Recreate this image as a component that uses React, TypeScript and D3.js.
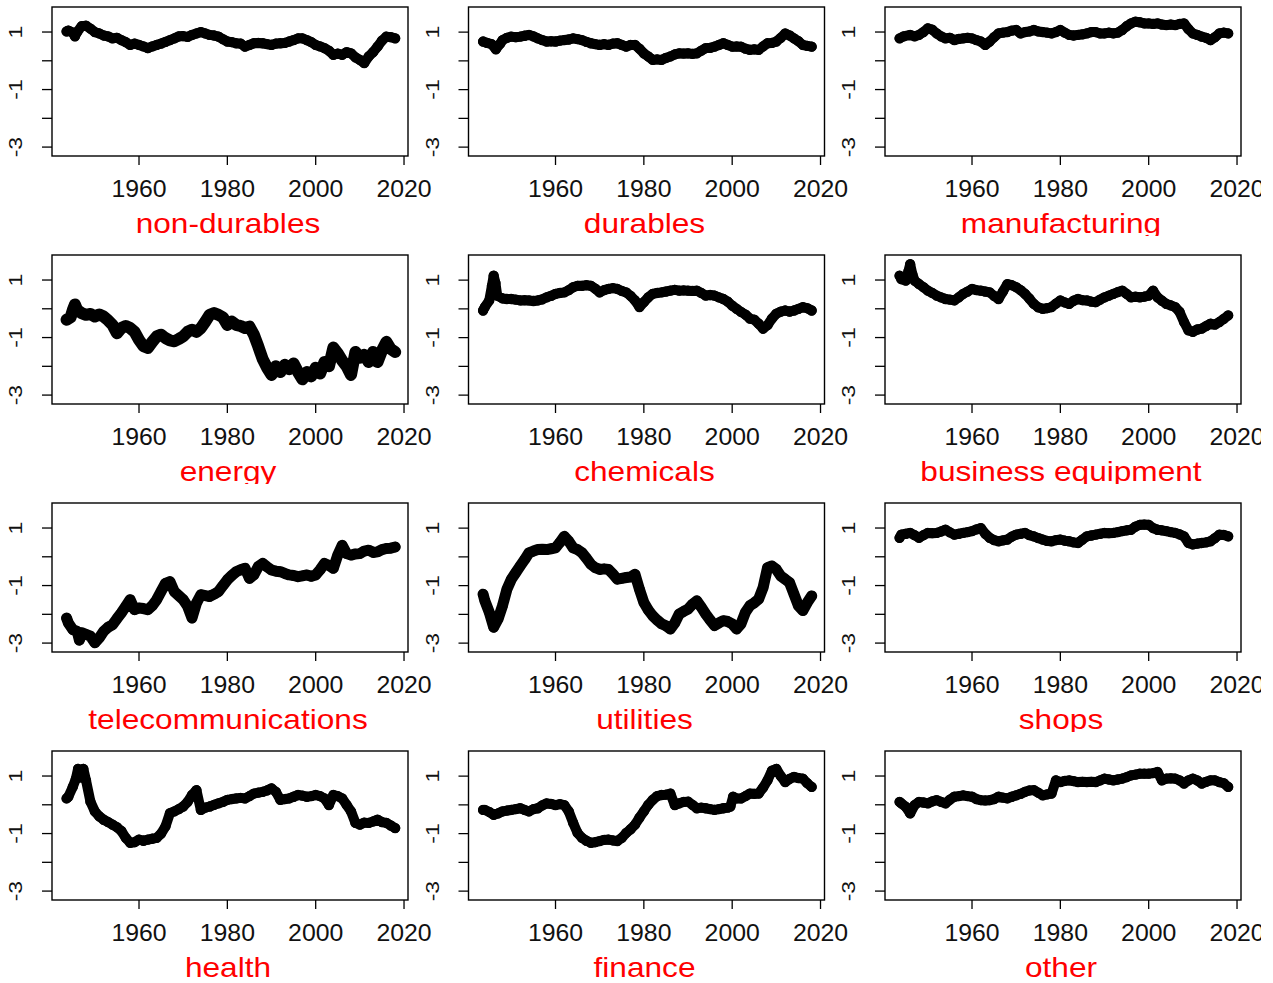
import React from 'react'
import * as d3 from 'd3'

// values, [year, value]
const nonDurables = [[1943.6,1.02],[1944,1.05],[1945,0.98],[1945.5,0.85],[1946,1.0],[1947,1.2],[1948,1.22],[1949,1.12],[1950,1.0],[1951,0.95],[1952,0.88],[1953,0.85],[1954,0.78],[1955,0.8],[1956,0.72],[1957,0.65],[1958,0.55],[1959,0.6],[1960,0.55],[1961,0.5],[1962,0.44],[1963,0.5],[1964,0.55],[1965,0.6],[1966,0.66],[1967,0.72],[1968,0.78],[1969,0.85],[1970,0.86],[1971,0.83],[1972,0.9],[1973,0.95],[1974,1.0],[1975,0.95],[1976,0.9],[1977,0.88],[1978,0.84],[1979,0.75],[1980,0.67],[1981,0.65],[1982,0.61],[1983,0.6],[1984,0.49],[1985,0.55],[1986,0.61],[1987,0.62],[1988,0.61],[1989,0.58],[1990,0.55],[1991,0.6],[1992,0.61],[1993,0.62],[1994,0.67],[1995,0.72],[1996,0.78],[1997,0.78],[1998,0.72],[1999,0.65],[2000,0.55],[2001,0.5],[2002,0.44],[2003,0.35],[2004,0.21],[2005,0.25],[2006,0.21],[2007,0.3],[2008,0.26],[2009,0.12],[2010,0.03],[2011,-0.08],[2012,0.15],[2013,0.3],[2014,0.49],[2015,0.7],[2016,0.84],[2017,0.82],[2018,0.78]]
const durables = [[1943.6,0.67],[1944.5,0.62],[1945.5,0.58],[1946.5,0.4],[1947.5,0.6],[1948,0.72],[1949,0.8],[1950,0.84],[1951,0.82],[1952,0.84],[1953,0.87],[1954,0.9],[1955,0.85],[1956,0.78],[1957,0.72],[1958,0.67],[1959,0.68],[1960,0.67],[1961,0.7],[1962,0.72],[1963,0.74],[1964,0.78],[1965,0.75],[1966,0.72],[1967,0.66],[1968,0.61],[1969,0.58],[1970,0.55],[1971,0.58],[1972,0.55],[1973,0.6],[1974,0.61],[1975,0.55],[1976,0.49],[1977,0.55],[1978,0.55],[1979,0.42],[1980,0.26],[1981,0.15],[1982,0.03],[1983,0.05],[1984,0.03],[1985,0.1],[1986,0.15],[1987,0.22],[1988,0.26],[1989,0.25],[1990,0.26],[1991,0.24],[1992,0.26],[1993,0.35],[1994,0.44],[1995,0.45],[1996,0.49],[1997,0.55],[1998,0.61],[1999,0.55],[2000,0.49],[2001,0.5],[2002,0.49],[2003,0.42],[2004,0.38],[2005,0.4],[2006,0.38],[2007,0.5],[2008,0.61],[2009,0.62],[2010,0.67],[2011,0.8],[2012,0.95],[2013,0.88],[2014,0.78],[2015,0.68],[2016,0.55],[2017,0.52],[2018,0.49]]
const manufacturing = [[1943.6,0.78],[1944.5,0.85],[1946,0.9],[1947,0.85],[1948,0.9],[1949,1.0],[1950,1.13],[1951,1.08],[1952,0.95],[1953,0.85],[1954,0.78],[1955,0.8],[1956,0.72],[1957,0.76],[1958,0.78],[1959,0.8],[1960,0.78],[1961,0.72],[1962,0.67],[1963,0.55],[1964,0.67],[1965,0.82],[1966,0.95],[1967,0.98],[1968,1.0],[1969,1.05],[1970,1.07],[1971,0.95],[1972,1.0],[1973,1.02],[1974,1.07],[1975,1.02],[1976,1.0],[1977,0.98],[1978,0.95],[1979,1.0],[1980,1.07],[1981,0.98],[1982,0.9],[1983,0.88],[1984,0.9],[1985,0.92],[1986,0.95],[1987,1.0],[1988,1.0],[1989,0.95],[1990,0.95],[1991,0.98],[1992,0.95],[1993,0.98],[1994,1.07],[1995,1.2],[1996,1.3],[1997,1.36],[1998,1.34],[1999,1.3],[2000,1.3],[2001,1.28],[2002,1.3],[2003,1.26],[2004,1.24],[2005,1.26],[2006,1.24],[2007,1.28],[2008,1.3],[2009,1.1],[2010,0.95],[2011,0.9],[2012,0.84],[2013,0.8],[2014,0.72],[2015,0.82],[2016,0.95],[2017,0.98],[2018,0.95]]
const energy = [[1943.6,-0.38],[1944.5,-0.3],[1945,-0.05],[1945.5,0.15],[1946,-0.04],[1947,-0.15],[1948,-0.21],[1949,-0.18],[1950,-0.27],[1951,-0.2],[1952,-0.27],[1953,-0.4],[1954,-0.56],[1955,-0.85],[1956,-0.67],[1957,-0.6],[1958,-0.67],[1959,-0.8],[1960,-1.08],[1961,-1.3],[1962,-1.36],[1963,-1.15],[1964,-0.96],[1965,-0.9],[1966,-1.02],[1967,-1.1],[1968,-1.13],[1969,-1.05],[1970,-0.96],[1971,-0.8],[1972,-0.73],[1973,-0.8],[1974,-0.67],[1975,-0.45],[1976,-0.21],[1977,-0.15],[1978,-0.21],[1979,-0.3],[1980,-0.56],[1981,-0.45],[1982,-0.56],[1983,-0.6],[1984,-0.67],[1985,-0.62],[1986,-0.9],[1987,-1.31],[1988,-1.75],[1989,-2.05],[1990,-2.3],[1991,-2.0],[1992,-2.2],[1993,-1.95],[1994,-2.1],[1995,-1.9],[1996,-2.2],[1997,-2.45],[1998,-2.2],[1999,-2.35],[2000,-2.05],[2001,-2.25],[2002,-1.85],[2003,-2.0],[2004,-1.35],[2005,-1.55],[2006,-1.8],[2007,-2.0],[2008,-2.3],[2009,-1.5],[2010,-1.7],[2011,-1.6],[2012,-1.85],[2013,-1.5],[2014,-1.85],[2015,-1.45],[2016,-1.15],[2017,-1.4],[2018,-1.5]]
const chemicals = [[1943.6,-0.06],[1944,0.06],[1945,0.29],[1945.6,0.8],[1946,1.15],[1946.4,0.9],[1946.8,0.46],[1948,0.36],[1949,0.34],[1950,0.34],[1951,0.32],[1952,0.29],[1953,0.3],[1954,0.29],[1955,0.27],[1956,0.29],[1957,0.33],[1958,0.4],[1959,0.45],[1960,0.52],[1961,0.55],[1962,0.57],[1963,0.65],[1964,0.75],[1965,0.8],[1966,0.8],[1967,0.82],[1968,0.8],[1969,0.7],[1970,0.57],[1971,0.65],[1972,0.69],[1973,0.72],[1974,0.69],[1975,0.62],[1976,0.57],[1977,0.45],[1978,0.29],[1979,0.06],[1980,0.23],[1981,0.4],[1982,0.52],[1983,0.55],[1984,0.57],[1985,0.6],[1986,0.63],[1987,0.66],[1988,0.63],[1989,0.64],[1990,0.63],[1991,0.62],[1992,0.63],[1993,0.55],[1994,0.46],[1995,0.48],[1996,0.46],[1997,0.4],[1998,0.34],[1999,0.25],[2000,0.11],[2001,0.0],[2002,-0.11],[2003,-0.2],[2004,-0.34],[2005,-0.38],[2006,-0.52],[2007,-0.69],[2008,-0.57],[2009,-0.34],[2010,-0.17],[2011,-0.1],[2012,-0.06],[2013,-0.1],[2014,-0.06],[2015,0.0],[2016,0.06],[2017,0.02],[2018,-0.06]]
const businessEquipment = [[1943.6,1.15],[1944,1.03],[1945,0.98],[1945.6,1.3],[1946,1.55],[1946.5,1.2],[1947,0.98],[1948,0.86],[1949,0.75],[1950,0.63],[1951,0.55],[1952,0.46],[1953,0.4],[1954,0.34],[1955,0.32],[1956,0.29],[1957,0.4],[1958,0.52],[1959,0.6],[1960,0.69],[1961,0.65],[1962,0.63],[1963,0.6],[1964,0.57],[1965,0.45],[1966,0.34],[1967,0.6],[1968,0.86],[1969,0.82],[1970,0.75],[1971,0.65],[1972,0.52],[1973,0.35],[1974,0.17],[1975,0.05],[1976,0.0],[1977,0.02],[1978,0.06],[1979,0.18],[1980,0.29],[1981,0.22],[1982,0.17],[1983,0.28],[1984,0.34],[1985,0.3],[1986,0.29],[1987,0.25],[1988,0.23],[1989,0.32],[1990,0.4],[1991,0.46],[1992,0.52],[1993,0.58],[1994,0.63],[1995,0.52],[1996,0.4],[1997,0.42],[1998,0.4],[1999,0.42],[2000,0.46],[2001,0.63],[2002,0.4],[2003,0.28],[2004,0.17],[2005,0.12],[2006,0.06],[2007,-0.11],[2008,-0.46],[2009,-0.75],[2010,-0.8],[2011,-0.72],[2012,-0.69],[2013,-0.6],[2014,-0.52],[2015,-0.55],[2016,-0.46],[2017,-0.35],[2018,-0.23]]
const telecommunications = [[1943.6,-2.13],[1944,-2.3],[1945,-2.53],[1946,-2.59],[1946.5,-2.9],[1947,-2.64],[1948,-2.7],[1949,-2.76],[1950,-2.99],[1951,-2.82],[1952,-2.59],[1953,-2.45],[1954,-2.36],[1955,-2.15],[1956,-1.95],[1957,-1.72],[1958,-1.49],[1959,-1.84],[1960,-1.78],[1961,-1.8],[1962,-1.84],[1963,-1.7],[1964,-1.49],[1965,-1.2],[1966,-0.92],[1967,-0.86],[1968,-1.21],[1969,-1.35],[1970,-1.49],[1971,-1.72],[1972,-2.13],[1973,-1.61],[1974,-1.32],[1975,-1.35],[1976,-1.38],[1977,-1.3],[1978,-1.21],[1979,-1.0],[1980,-0.8],[1981,-0.65],[1982,-0.52],[1983,-0.45],[1984,-0.4],[1985,-0.75],[1986,-0.63],[1987,-0.34],[1988,-0.23],[1989,-0.35],[1990,-0.46],[1991,-0.5],[1992,-0.52],[1993,-0.58],[1994,-0.63],[1995,-0.65],[1996,-0.69],[1997,-0.66],[1998,-0.63],[1999,-0.68],[2000,-0.63],[2001,-0.45],[2002,-0.23],[2003,-0.3],[2004,-0.4],[2005,0.06],[2006,0.4],[2007,0.11],[2008,0.06],[2009,0.1],[2010,0.11],[2011,0.2],[2012,0.23],[2013,0.15],[2014,0.17],[2015,0.25],[2016,0.29],[2017,0.3],[2018,0.34]]
const utilities = [[1943.6,-1.3],[1944,-1.53],[1945,-1.93],[1946,-2.45],[1947,-2.16],[1948,-1.7],[1949,-1.13],[1950,-0.78],[1951,-0.55],[1952,-0.32],[1953,-0.1],[1954,0.14],[1955,0.2],[1956,0.25],[1957,0.26],[1958,0.25],[1959,0.28],[1960,0.31],[1961,0.5],[1962,0.71],[1963,0.54],[1964,0.31],[1965,0.25],[1966,0.14],[1967,-0.05],[1968,-0.26],[1969,-0.38],[1970,-0.44],[1971,-0.42],[1972,-0.44],[1973,-0.6],[1974,-0.78],[1975,-0.75],[1976,-0.72],[1977,-0.7],[1978,-0.61],[1979,-1.13],[1980,-1.59],[1981,-1.85],[1982,-2.05],[1983,-2.2],[1984,-2.33],[1985,-2.4],[1986,-2.51],[1987,-2.3],[1988,-1.99],[1989,-1.9],[1990,-1.82],[1991,-1.65],[1992,-1.53],[1993,-1.75],[1994,-1.99],[1995,-2.2],[1996,-2.39],[1997,-2.3],[1998,-2.22],[1999,-2.25],[2000,-2.33],[2001,-2.51],[2002,-2.33],[2003,-1.93],[2004,-1.7],[2005,-1.6],[2006,-1.47],[2007,-1.07],[2008,-0.38],[2009,-0.32],[2010,-0.44],[2011,-0.67],[2012,-0.78],[2013,-0.9],[2014,-1.3],[2015,-1.7],[2016,-1.87],[2017,-1.59],[2018,-1.36]]
const shops = [[1943.6,0.66],[1944,0.77],[1945,0.8],[1946,0.83],[1947,0.75],[1948,0.66],[1949,0.75],[1950,0.83],[1951,0.82],[1952,0.83],[1953,0.88],[1954,0.94],[1955,0.85],[1956,0.77],[1957,0.8],[1958,0.83],[1959,0.86],[1960,0.89],[1961,0.95],[1962,1.0],[1963,0.8],[1964,0.66],[1965,0.58],[1966,0.54],[1967,0.57],[1968,0.6],[1969,0.7],[1970,0.77],[1971,0.8],[1972,0.83],[1973,0.75],[1974,0.71],[1975,0.65],[1976,0.6],[1977,0.55],[1978,0.54],[1979,0.58],[1980,0.6],[1981,0.56],[1982,0.54],[1983,0.5],[1984,0.48],[1985,0.6],[1986,0.71],[1987,0.74],[1988,0.77],[1989,0.8],[1990,0.83],[1991,0.82],[1992,0.83],[1993,0.86],[1994,0.89],[1995,0.92],[1996,0.94],[1997,1.05],[1998,1.11],[1999,1.12],[2000,1.11],[2001,1.0],[2002,0.94],[2003,0.92],[2004,0.89],[2005,0.86],[2006,0.83],[2007,0.78],[2008,0.71],[2009,0.48],[2010,0.43],[2011,0.46],[2012,0.48],[2013,0.5],[2014,0.54],[2015,0.65],[2016,0.77],[2017,0.76],[2018,0.71]]
const health = [[1943.6,0.22],[1944,0.28],[1945,0.62],[1945.7,0.9],[1946.2,1.25],[1946.7,0.95],[1947.4,1.25],[1948,0.85],[1949,0.11],[1950,-0.23],[1951,-0.4],[1952,-0.52],[1953,-0.6],[1954,-0.69],[1955,-0.78],[1956,-0.91],[1957,-1.15],[1958,-1.32],[1959,-1.3],[1960,-1.21],[1961,-1.25],[1962,-1.21],[1963,-1.18],[1964,-1.15],[1965,-1.0],[1966,-0.75],[1967,-0.29],[1968,-0.23],[1969,-0.15],[1970,-0.06],[1971,0.1],[1972,0.34],[1973,0.51],[1974,-0.18],[1975,-0.1],[1976,-0.06],[1977,0.0],[1978,0.05],[1979,0.1],[1980,0.17],[1981,0.2],[1982,0.22],[1983,0.24],[1984,0.22],[1985,0.3],[1986,0.39],[1987,0.42],[1988,0.45],[1989,0.5],[1990,0.57],[1991,0.45],[1992,0.17],[1993,0.2],[1994,0.22],[1995,0.28],[1996,0.34],[1997,0.32],[1998,0.28],[1999,0.3],[2000,0.34],[2001,0.3],[2002,0.22],[2003,-0.01],[2004,0.34],[2005,0.3],[2006,0.22],[2007,0.0],[2008,-0.23],[2009,-0.63],[2010,-0.69],[2011,-0.62],[2012,-0.63],[2013,-0.58],[2014,-0.52],[2015,-0.6],[2016,-0.63],[2017,-0.72],[2018,-0.81]]
const finance = [[1943.6,-0.18],[1944,-0.18],[1945,-0.25],[1946,-0.35],[1947,-0.3],[1948,-0.23],[1949,-0.2],[1950,-0.18],[1951,-0.15],[1952,-0.12],[1953,-0.18],[1954,-0.23],[1955,-0.15],[1956,-0.12],[1957,-0.02],[1958,0.05],[1959,0.03],[1960,-0.01],[1961,0.02],[1962,-0.01],[1963,-0.23],[1964,-0.63],[1965,-0.98],[1966,-1.15],[1967,-1.25],[1968,-1.32],[1969,-1.3],[1970,-1.26],[1971,-1.22],[1972,-1.21],[1973,-1.24],[1974,-1.26],[1975,-1.15],[1976,-0.98],[1977,-0.85],[1978,-0.69],[1979,-0.45],[1980,-0.23],[1981,0.0],[1982,0.17],[1983,0.3],[1984,0.34],[1985,0.35],[1986,0.39],[1987,-0.01],[1988,0.05],[1989,0.1],[1990,0.11],[1991,0.0],[1992,-0.12],[1993,-0.1],[1994,-0.12],[1995,-0.15],[1996,-0.18],[1997,-0.15],[1998,-0.12],[1999,-0.1],[1999.6,-0.06],[2000.2,0.28],[2001,0.22],[2002,0.22],[2003,0.3],[2004,0.39],[2005,0.38],[2006,0.39],[2007,0.6],[2008,0.85],[2009,1.19],[2010,1.25],[2011,1.0],[2012,0.79],[2013,0.9],[2014,0.97],[2015,0.93],[2016,0.91],[2017,0.75],[2018,0.62]]
const other = [[1943.6,0.1],[1944,0.05],[1945,-0.07],[1946,-0.3],[1947,-0.01],[1948,0.1],[1949,0.08],[1950,0.05],[1951,0.12],[1952,0.16],[1953,0.1],[1954,0.05],[1955,0.18],[1956,0.28],[1957,0.3],[1958,0.33],[1959,0.3],[1960,0.28],[1961,0.2],[1962,0.16],[1963,0.15],[1964,0.16],[1965,0.2],[1966,0.28],[1967,0.25],[1968,0.22],[1969,0.28],[1970,0.33],[1971,0.38],[1972,0.45],[1973,0.5],[1974,0.51],[1975,0.42],[1976,0.33],[1977,0.36],[1978,0.39],[1979,0.85],[1980,0.79],[1981,0.83],[1982,0.85],[1983,0.82],[1984,0.79],[1985,0.8],[1986,0.79],[1987,0.8],[1988,0.79],[1989,0.85],[1990,0.91],[1991,0.88],[1992,0.85],[1993,0.88],[1994,0.91],[1995,0.96],[1996,1.02],[1997,1.05],[1998,1.08],[1999,1.08],[2000,1.08],[2001,1.1],[2002,1.14],[2003,0.85],[2004,0.91],[2005,0.92],[2006,0.91],[2007,0.85],[2008,0.74],[2009,0.85],[2010,0.91],[2011,0.85],[2012,0.74],[2013,0.8],[2014,0.85],[2015,0.85],[2016,0.79],[2017,0.75],[2018,0.62]]

const sectorNames = [
  'non-durables', 'durables', 'manufacturing',
  'energy', 'chemicals', 'business equipment',
  'telecommunications', 'utilities', 'shops',
  'health', 'finance', 'other',
]
const sectorSeries = [
  nonDurables, durables, manufacturing,
  energy, chemicals, businessEquipment,
  telecommunications, utilities, shops,
  health, finance, other,
]
const yTicks = [1, 0, -1, -2, -3]
const yTickLabels = ['1', '', '-1', '', '-3']
const xTicks = [1960, 1980, 2000, 2020]

const W = 1273
const H = 983
const boxW = 356
const boxH = 149
const font = '"Liberation Sans", Arial, sans-serif'

// noisier series leave a wider smear of points in the original
const bandWidth = [10, 10, 10, 12, 10, 10, 11, 11, 10, 10, 10, 10]

const x = d3.scaleLinear().domain([1940.3, 2020.9]).range([0, boxW])
const y = d3.scaleLinear().domain([-3.31, 1.87]).range([boxH, 0])
const line = d3
  .line<number[]>()
  .x((d) => x(d[0]))
  .y((d) => y(d[1]))

const Panel = ({ name, data, left, top, idx }) => (
  <g transform={`translate(${left},${top})`}>
    <clipPath id={`clip-${idx}`}>
      <rect x={-60} y={-10} width={500} height={boxH + 90} />
    </clipPath>
    <g clipPath={`url(#clip-${idx})`}>
      <path
        d={line(data)}
        fill="none"
        stroke="#000"
        strokeWidth={bandWidth[idx]}
        strokeLinejoin="round"
        strokeLinecap="round"
      />
      {data.map((d, i) => (
        <circle
          key={i}
          cx={x(d[0])}
          cy={y(d[1])}
          r={4.4}
          fill="none"
          stroke="#000"
          strokeWidth={1.5}
        />
      ))}
      <rect x={0} y={0} width={boxW} height={boxH} fill="none" stroke="#000" strokeWidth={1.4} />
      {yTicks.map((t, i) => (
        <g key={t}>
          <line x1={-10} x2={0} y1={y(t)} y2={y(t)} stroke="#000" strokeWidth={1.3} />
          {yTickLabels[i] && (
            <text
              transform={`translate(-30,${y(t)}) rotate(-90) scale(1,0.8)`}
              textAnchor="middle"
              fontFamily={font}
              fontSize={23}
              fill="#111"
            >
              {yTickLabels[i]}
            </text>
          )}
        </g>
      ))}
      {xTicks.map((t) => (
        <g key={t}>
          <line x1={x(t)} x2={x(t)} y1={boxH} y2={boxH + 9} stroke="#000" strokeWidth={1.3} />
          <text
            transform={`translate(${x(t)},${boxH + 41}) scale(1.08,1)`}
            textAnchor="middle"
            fontFamily={font}
            fontSize={23}
            fill="#111"
          >
            {t}
          </text>
        </g>
      ))}
      <text
        transform={`translate(${boxW / 2 - 2},${boxH + 77}) scale(1.13,1)`}
        textAnchor="middle"
        fontFamily={font}
        fontSize={28}
        fill="#ff0000"
      >
        {name}
      </text>
    </g>
  </g>
)

const App = () => (
  <div style={{ position: 'absolute', left: 0, top: 0, width: W, height: H, background: '#fff' }}>
    <svg width={W} height={H} viewBox={`0 0 ${W} ${H}`}>
      <clipPath id="page-clip">
        <rect x={0} y={0} width={1261} height={H} />
      </clipPath>
      <g clipPath="url(#page-clip)">
        {sectorNames.map((name, i) => (
          <Panel
            key={name}
            idx={i}
            name={name}
            data={sectorSeries[i]}
            left={52 + (i % 3) * 416.5}
            top={7 + Math.floor(i / 3) * 248}
          />
        ))}
      </g>
    </svg>
  </div>
)

export default App
